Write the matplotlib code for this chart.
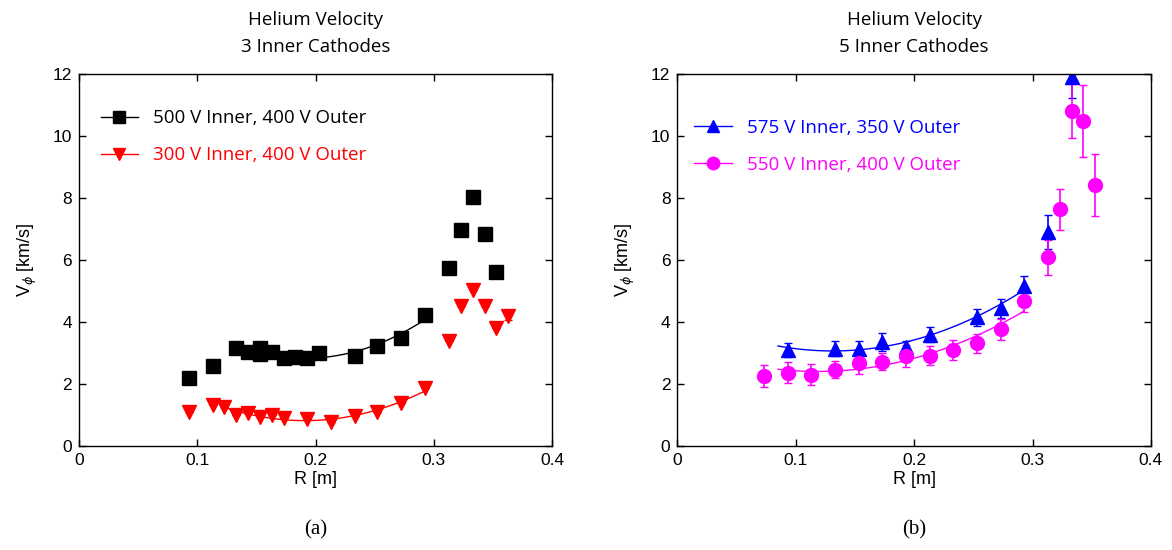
import numpy as np
import matplotlib
matplotlib.use("Agg")
import matplotlib.pyplot as plt
from matplotlib.lines import Line2D

# ---- Panel (a): 3 inner cathodes ----
r_a_black = [0.093, 0.113, 0.133, 0.143, 0.153, 0.153, 0.163, 0.173, 0.183, 0.193,
             0.203, 0.233, 0.252, 0.272, 0.293, 0.313, 0.323, 0.333, 0.343, 0.353]
v_a_black = [2.21, 2.58, 3.17, 3.02, 3.17, 2.97, 3.02, 2.83, 2.86, 2.83,
             2.99, 2.92, 3.23, 3.49, 4.23, 5.73, 6.97, 8.02, 6.83, 5.62]

r_a_red = [0.093, 0.113, 0.123, 0.133, 0.143, 0.153, 0.163, 0.173, 0.193, 0.213,
           0.233, 0.252, 0.272, 0.293, 0.313, 0.323, 0.333, 0.343, 0.353, 0.363]
v_a_red = [1.10, 1.32, 1.25, 1.01, 1.05, 0.95, 1.01, 0.92, 0.87, 0.77,
           0.98, 1.10, 1.38, 1.87, 3.39, 4.51, 5.04, 4.51, 3.82, 4.20]
e_a_red = [0, 0, 0, 0, 0, 0, 0, 0, 0, 0,
           0, 0, 0, 0, 0, 0, 0, 0, 0, 0.15]

# ---- Panel (b): 5 inner cathodes ----
r_b_blue = [0.093, 0.133, 0.153, 0.173, 0.193, 0.213, 0.253, 0.273, 0.293, 0.313, 0.333]
v_b_blue = [3.10, 3.14, 3.14, 3.35, 3.18, 3.59, 4.15, 4.44, 5.17, 6.90, 11.9]
e_b_blue = [0.23, 0.24, 0.25, 0.28, 0.20, 0.25, 0.28, 0.30, 0.32, 0.55, 0.68]

r_b_mag = [0.073, 0.093, 0.113, 0.133, 0.153, 0.173, 0.193, 0.213, 0.233, 0.253,
           0.273, 0.293, 0.313, 0.323, 0.333, 0.343, 0.353]
v_b_mag = [2.26, 2.37, 2.30, 2.46, 2.67, 2.72, 2.90, 2.92, 3.10, 3.31,
           3.76, 4.68, 6.09, 7.63, 10.8, 10.48, 8.41]
e_b_mag = [0.34, 0.35, 0.34, 0.27, 0.35, 0.28, 0.35, 0.32, 0.33, 0.30,
           0.35, 0.36, 0.57, 0.65, 0.87, 1.15, 1.00]

labels_a = ["500 V Inner, 400 V Outer", "300 V Inner, 400 V Outer"]
labels_b = ["575 V Inner, 350 V Outer", "550 V Inner, 400 V Outer"]
titles = ["Helium Velocity\n3 Inner Cathodes", "Helium Velocity\n5 Inner Cathodes"]
captions = ["(a)", "(b)"]

BLACK, RED, BLUE, MAG = "black", "#ff0000", "#0000ff", "#ff00ff"
SANS = ["Liberation Sans", "DejaVu Sans"]
HUM = ["Open Sans", "DejaVu Sans"]


def fit_curve(r, v, lo, hi, deg=2):
    """Least-squares polynomial through the points with lo <= r <= hi."""
    r = np.asarray(r)
    v = np.asarray(v)
    m = (r >= lo - 1e-9) & (r <= hi + 1e-9)
    p = np.polyfit(r[m], v[m], deg)
    xx = np.linspace(lo, hi, 100)
    return xx, np.polyval(p, xx)


fig = plt.figure(figsize=(11.72, 5.5), dpi=100)
ax_a = fig.add_axes([0.0674, 0.189, 0.4036, 0.6765])
ax_b = fig.add_axes([0.578, 0.189, 0.404, 0.6765])

# panel (a)
ax_a.plot(r_a_black, v_a_black, "s", color=BLACK, ms=9.5, ls="none")
ax_a.errorbar(r_a_red, v_a_red, yerr=e_a_red, fmt="v", color=RED, ms=10,
              capsize=3, elinewidth=1)
x, y = fit_curve(r_a_black, v_a_black, 0.133, 0.293)
ax_a.plot(x, y, color=BLACK, lw=1)
x, y = fit_curve(r_a_red, v_a_red, 0.123, 0.293)
ax_a.plot(x, y, color=RED, lw=1)

# panel (b)
ax_b.errorbar(r_b_blue, v_b_blue, yerr=e_b_blue, fmt="^", color=BLUE, ms=9.5,
              capsize=3, elinewidth=1.2)
ax_b.errorbar(r_b_mag, v_b_mag, yerr=e_b_mag, fmt="o", color=MAG, ms=10,
              capsize=3, elinewidth=1.2)
x, y = fit_curve(r_b_blue, v_b_blue, 0.085, 0.293)
ax_b.plot(x, y, color=BLUE, lw=1)
x, y = fit_curve(r_b_mag, v_b_mag, 0.085, 0.293)
ax_b.plot(x, y, color=MAG, lw=1)

leg_handles_a = [Line2D([], [], color=BLACK, marker="s", ms=8, lw=1),
                 Line2D([], [], color=RED, marker="v", ms=9, lw=1)]
leg_handles_b = [Line2D([], [], color=BLUE, marker="^", ms=9, lw=1),
                 Line2D([], [], color=MAG, marker="o", ms=9, lw=1)]

for ax, handles, labels, cols, anchor in [
        (ax_a, leg_handles_a, labels_a, [BLACK, RED], (0.01, 0.95)),
        (ax_b, leg_handles_b, labels_b, [BLUE, MAG], (0.0, 0.925))]:
    leg = ax.legend(handles, labels, loc="upper left", bbox_to_anchor=anchor,
                    frameon=False, handlelength=2.0, handletextpad=0.8,
                    labelspacing=1.0, prop={"family": HUM, "size": 13.5})
    for t, c in zip(leg.get_texts(), cols):
        t.set_color(c)

for ax, title, cap in zip([ax_a, ax_b], titles, captions):
    ax.set_xlim(0, 0.4)
    ax.set_ylim(0, 12)
    ax.set_xticks([0, 0.1, 0.2, 0.3, 0.4])
    ax.set_xticklabels(["0", "0.1", "0.2", "0.3", "0.4"])
    ax.set_yticks(range(0, 13, 2))
    ax.tick_params(direction="in", top=True, right=True, length=5, width=1,
                   labelsize=12.5, pad=5)
    for lbl in ax.get_xticklabels() + ax.get_yticklabels():
        lbl.set_family(SANS)
    for s in ax.spines.values():
        s.set_linewidth(1)
    ax.set_xlabel("R [m]", family=SANS, fontsize=13, labelpad=2)
    ax.set_ylabel(r"V$_\phi$ [km/s]", family=SANS, fontsize=13, labelpad=10)
    ax.set_title(title, family=HUM, fontsize=13.5, linespacing=1.65, pad=16)
    ax.text(0.5, -0.225, cap, transform=ax.transAxes, ha="center", va="center",
            family=["Liberation Serif"], fontsize=15)

fig.savefig("out.png", dpi=100, facecolor="white")
